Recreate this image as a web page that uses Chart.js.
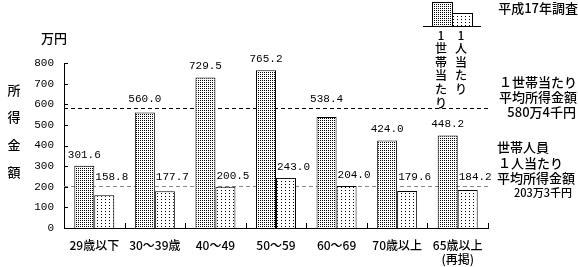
<!DOCTYPE html>
<html><head><meta charset="utf-8">
<script src="https://cdn.jsdelivr.net/npm/chart.js@4"></script>
<style>html,body{margin:0;padding:0;background:#fff}#wrap{width:578px;height:267px;position:relative}</style>
</head><body><div id="wrap"><canvas id="c" width="578" height="267"></canvas></div>
<script>
const categories = [["29歳以下"],["30〜39歳"],["40〜49"],["50〜59"],["60〜69"],["70歳以上"],["65歳以上","(再掲)"]];
const householdIncome = [301.6, 560.0, 729.5, 765.2, 538.4, 424.0, 448.2];
const perPersonIncome = [158.8, 177.7, 200.5, 243.0, 204.0, 179.6, 184.2];
const avgHousehold = 580.4;
const avgPerPerson = 203.3;
const yTicks = [0,100,200,300,400,500,600,700,800];

function makePattern(w,h,dots){
  const c=document.createElement('canvas');c.width=w;c.height=h;
  const x=c.getContext('2d');x.fillStyle='#fff';x.fillRect(0,0,w,h);x.fillStyle='#000';
  dots.forEach(d=>x.fillRect(d[0],d[1],1,1));
  return x.createPattern(c,'repeat');
}
const densePat=makePattern(2,2,[[0,0]]);
const sparsePat=makePattern(4,3,[[1,1]]);

const MONO='"Liberation Mono", "DejaVu Sans Mono", monospace';
const JP='"Noto Sans CJK JP", sans-serif';

const overlay={
  id:'overlay',
  beforeDatasetsDraw(chart){
    const c=chart.ctx, ys=chart.scales.y, a=chart.chartArea;
    c.save();
    c.lineWidth=1;
    c.setLineDash([4,3]);
    c.strokeStyle='#000';
    let y=Math.round(ys.getPixelForValue(avgHousehold))+0.5;
    c.beginPath();c.moveTo(a.left,y);c.lineTo(a.right,y);c.stroke();
    c.strokeStyle='#888';
    y=Math.round(ys.getPixelForValue(avgPerPerson))+0.5;
    c.beginPath();c.moveTo(a.left,y);c.lineTo(a.right,y);c.stroke();
    c.restore();
  },
  afterDatasetsDraw(chart){
    const c=chart.ctx, xs=chart.scales.x, ys=chart.scales.y, a=chart.chartArea;
    c.save();
    c.strokeStyle='#000';c.lineWidth=1;
    yTicks.forEach(v=>{const y=Math.round(ys.getPixelForValue(v))+0.5;c.beginPath();c.moveTo(a.left,y);c.lineTo(a.left+4,y);c.stroke();});
    const n=categories.length;
    const step=xs.getPixelForValue(1)-xs.getPixelForValue(0);
    for(let i=0;i<n;i++){
      const x=Math.round(xs.getPixelForValue(i)+step/2)+0.5;
      c.beginPath();c.moveTo(x,a.bottom);c.lineTo(x,a.bottom-5);c.stroke();
    }
    c.fillStyle='#000';c.font='11px '+MONO;c.textBaseline='middle';
    const lineH=ys.getPixelForValue(avgHousehold), lineP=ys.getPixelForValue(avgPerPerson);
    const m0=chart.getDatasetMeta(0), m1=chart.getDatasetMeta(1);
    householdIncome.forEach((v,i)=>{
      const el=m0.data[i]; let ly=el.y-11;
      if(ly>lineH-9 && ly<lineH+9) ly=lineH-9;
      c.textAlign='center'; c.fillText(v.toFixed(1),el.x,ly);
    });
    perPersonIncome.forEach((v,i)=>{
      const el=m1.data[i]; let ly=el.y-11;
      if(ly>lineP-9 && ly<lineP+9) ly=lineP-9;
      c.textAlign='left'; c.fillText(v.toFixed(1),el.x-el.width/2+1,ly);
    });
    c.font='500 13px '+JP;
    c.textAlign='center';
    c.fillText('万円',54,38);
    ['所','得','金','額'].forEach((ch,i)=>c.fillText(ch,14,90+i*27.5));
    c.textAlign='right';
    c.fillText('平成17年調査',578,8);
    c.fillText('１世帯当たり',577,82);
    c.fillText('平均所得金額',577,97);
    c.fillText('580万4千円',576,112);
    c.textAlign='left';
    c.fillText('世帯人員',497,147);
    c.fillText('１人当たり',498,163);
    c.fillText('平均所得金額',497,178);
    c.font='500 11px '+JP;
    c.fillText('203万3千円',514,193);
    c.fillStyle=densePat;c.fillRect(432,2,20,24);c.strokeRect(432.5,2.5,20,24);
    c.fillStyle=sparsePat;c.fillRect(452,13,20,13);c.strokeRect(452.5,13.5,20,13);
    c.beginPath();c.moveTo(423,26.5);c.lineTo(481,26.5);c.stroke();
    c.fillStyle='#000';c.textAlign='center';c.font='500 12px '+JP;
    ['1','世','帯','当','た','り'].forEach((ch,i)=>c.fillText(ch,441,35+i*13.6));
    ['1','人','当','た','り'].forEach((ch,i)=>c.fillText(ch,461,35+i*13.6));
    c.restore();
  }
};

new Chart(document.getElementById('c'),{
  type:'bar',
  data:{labels:categories,datasets:[
    {label:'1世帯当たり',data:householdIncome,backgroundColor:densePat,borderColor:'#000',borderWidth:1,borderSkipped:'bottom'},
    {label:'1人当たり',data:perPersonIncome,backgroundColor:sparsePat,borderColor:'#000',borderWidth:1,borderSkipped:'bottom'}
  ]},
  options:{
    responsive:false,animation:false,
    layout:{padding:{left:30,right:90,top:63,bottom:0}},
    plugins:{legend:{display:false},tooltip:{enabled:false}},
    datasets:{bar:{categoryPercentage:0.66,barPercentage:1.0}},
    scales:{
      x:{grid:{display:false,drawTicks:false},border:{display:true,color:'#000'},
        ticks:{color:'#000',font:{family:JP,size:12,weight:500},padding:10,maxRotation:0,autoSkip:false},
        afterFit(s){s.height=39;}},
      y:{min:0,max:800,grid:{display:false,drawTicks:false},border:{display:true,color:'#000'},
        ticks:{color:'#000',font:{family:MONO,size:11},padding:10,stepSize:100,
          callback:(v)=>yTicks.includes(v)?String(v):null},
        afterFit(s){s.width=34;}}
    }
  },
  plugins:[overlay]
});
</script></body></html>
